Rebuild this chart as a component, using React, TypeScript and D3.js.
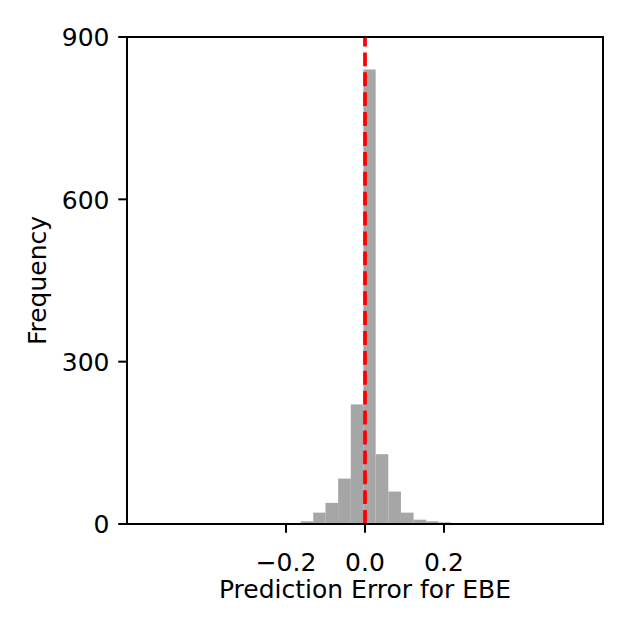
import React from "react";
import * as d3 from "d3";

// Histogram of prediction errors
const binEdges: number[] = [
  -0.195, -0.163, -0.131, -0.1, -0.068, -0.036, -0.004, 0.027, 0.059, 0.091, 0.123, 0.155, 0.186, 0.218,
];
const counts: number[] = [1, 5, 21, 39, 84, 221, 840, 129, 60, 21, 8, 5, 3];
const xTicks: number[] = [-0.2, 0.0, 0.2];
const yTicks: number[] = [0, 300, 600, 900];
const xLabel = "Prediction Error for EBE";
const yLabel = "Frequency";
const refLine = 0;

const W = 630;
const H = 630;
const L = 127;
const R = 603;
const T = 37;
const B = 524;
const FONT = "DejaVu Sans";
const FS = 25;

export default function App() {
  const x = d3.scaleLinear().domain([-0.6025, 0.6025]).range([L, R]);
  const y = d3.scaleLinear().domain([0, 900]).range([B, T]);
  const fmtX = (v: number) => {
    const s = d3.format(".1f")(Math.abs(v));
    return v < 0 ? "\u2212" + s : s;
  };
  const bins = counts.map((c, i) => ({ x0: binEdges[i], x1: binEdges[i + 1], c }));
  const tickLen = 8.75;
  return (
    <svg
      width={W}
      height={H}
      style={{ position: "absolute", left: 0, top: 0, background: "#fff" }}
      fontFamily={FONT}
    >
      <rect x={0} y={0} width={W} height={H} fill="#fff" />
      {bins.map((b, i) => (
        <rect
          key={i}
          x={x(b.x0)}
          y={y(b.c)}
          width={x(b.x1) - x(b.x0)}
          height={y(0) - y(b.c)}
          fill="#a6a6a6"
        />
      ))}
      <line
        x1={x(refLine)}
        x2={x(refLine)}
        y1={y(0)}
        y2={y(900)}
        stroke="#ff0000"
        strokeWidth={3.75}
        strokeDasharray="13.9 6"
      />
      <rect x={L} y={T} width={R - L} height={B - T} fill="none" stroke="#000" strokeWidth={2} />
      {yTicks.map((t) => (
        <g key={"y" + t}>
          <line x1={L - tickLen} x2={L} y1={y(t)} y2={y(t)} stroke="#000" strokeWidth={2} />
          <text x={L - tickLen - 8.75} y={y(t) + 9.3} textAnchor="end" fontSize={FS} fill="#000">
            {t}
          </text>
        </g>
      ))}
      {xTicks.map((t) => (
        <g key={"x" + t}>
          <line x1={x(t)} x2={x(t)} y1={B} y2={B + tickLen} stroke="#000" strokeWidth={2} />
          <text x={x(t)} y={571} textAnchor="middle" fontSize={FS} fill="#000">
            {fmtX(t)}
          </text>
        </g>
      ))}
      <text x={(L + R) / 2} y={598} textAnchor="middle" fontSize={FS} fill="#000">
        {xLabel}
      </text>
      <text
        transform={`translate(45.5, ${(T + B) / 2}) rotate(-90)`}
        textAnchor="middle"
        fontSize={FS}
        fill="#000"
      >
        {yLabel}
      </text>
    </svg>
  );
}
